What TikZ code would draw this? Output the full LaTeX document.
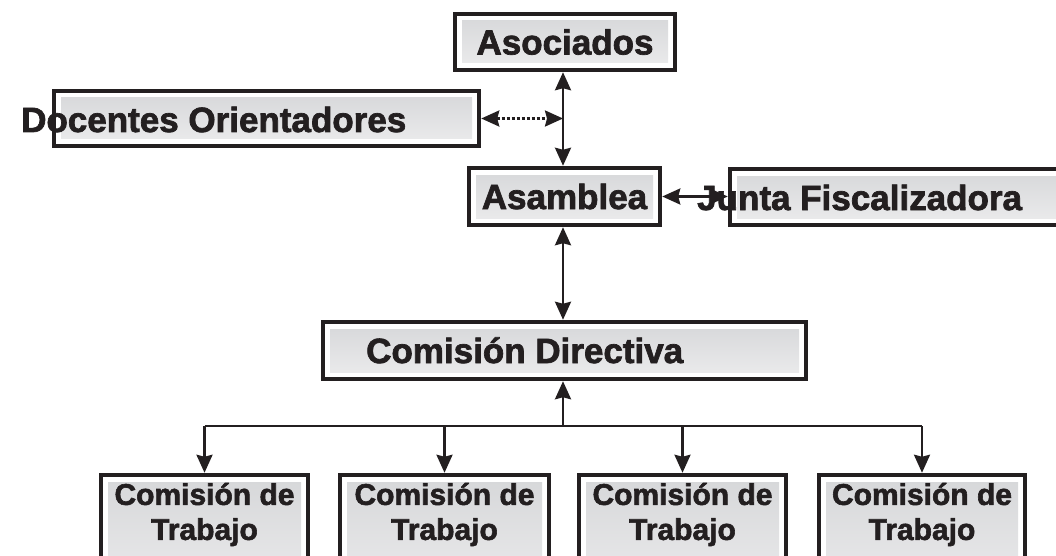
\documentclass[tikz,border=0pt]{standalone}
\usepackage{fontspec}
\setmainfont{Liberation Sans}[BoldFeatures={FakeBold=2}]
\usetikzlibrary{arrows.meta}
\definecolor{ink}{HTML}{231F20}
\definecolor{gtop}{HTML}{D6D7D9}
\definecolor{gbot}{HTML}{ECECED}
\begin{document}
\begin{tikzpicture}[x=1pt,y=-1pt,
  orgbox/.style={draw=ink, line width=4.5pt, fill=white, inner sep=0pt, minimum width=#1,
    path picture={\shade[top color=gtop,bottom color=gbot]
      ([xshift=7pt,yshift=-7pt]path picture bounding box.north west) rectangle
      ([xshift=-7pt,yshift=7pt]path picture bounding box.south east);}},
  bigtxt/.style={text=ink, inner sep=0pt, font=\bfseries\fontsize{35}{40}\selectfont},
  smalltxt/.style={text=ink, inner sep=0pt, align=center, font=\bfseries\fontsize{30}{35}\selectfont},
  link/.style={draw=ink, line width=2.5pt},
  tip/.style={-{Stealth[length=18pt,width=16pt,inset=2pt]}},
  dtip/.style={{Stealth[length=18pt,width=16pt,inset=2pt]}-{Stealth[length=18pt,width=16pt,inset=2pt]}},
]
\useasboundingbox (0,0) rectangle (1056,556);
\clip (0,0) rectangle (1056,556);

% boxes
\node[orgbox=220pt, minimum height=56pt] (asoc) at (565,42) {};
\node[orgbox=425pt, minimum height=55pt] (doc) at (266.5,118.5) {};
\node[orgbox=191pt, minimum height=57pt] (asam) at (564.5,196.5) {};
\node[orgbox=358pt, minimum height=56pt] (junta) at (909,197) {};
\node[orgbox=483pt, minimum height=57pt] (cd) at (564.5,350.5) {};
\node[orgbox=207pt, minimum height=123pt] (t1) at (204.5,536.5) {};
\node[orgbox=209pt, minimum height=123pt] (t2) at (444.5,536.5) {};
\node[orgbox=207pt, minimum height=123pt] (t3) at (682.5,536.5) {};
\node[orgbox=206pt, minimum height=123pt] (t4) at (922,536.5) {};

% connectors
\coordinate (spine) at (563,0);
\coordinate (bus) at (563,426);
\draw[link, dtip] (asoc.south -| spine) -- (asam.north -| spine);
\draw[link, dtip, dash pattern=on 3pt off 2pt] (doc.east) -- (doc.east -| spine);
\draw[link, dtip] (asam.east) -- (junta.west |- asam.east);
\draw[link, dtip] (asam.south -| spine) -- (cd.north -| spine);
\draw[link, tip] (bus) -- (cd.south -| bus);
\draw[link] (t1.north |- bus) -- (t4.north |- bus);
\foreach \t in {t1,t2,t3,t4}{
  \draw[link, tip] (\t.north |- bus) -- (\t.north);
}

% labels
\node[bigtxt] (asocl) at (asoc.center) {Asociados};
\node[bigtxt, anchor=base west] (docl) at (21,132) {Docentes Orientadores};
\node[bigtxt] (asaml) at (asam.center) {Asamblea};
\node[bigtxt, anchor=base west] (juntal) at (697,210) {Junta Fiscalizadora};
\node[bigtxt, anchor=base west] (cdl) at (366,363) {Comisión Directiva};
\node[smalltxt] (t1l) at (204.5,514.5) {Comisión de\\Trabajo};
\node[smalltxt] (t2l) at (444.5,514.5) {Comisión de\\Trabajo};
\node[smalltxt] (t3l) at (682.5,514.5) {Comisión de\\Trabajo};
\node[smalltxt] (t4l) at (922,514.5) {Comisión de\\Trabajo};
\end{tikzpicture}
\end{document}
